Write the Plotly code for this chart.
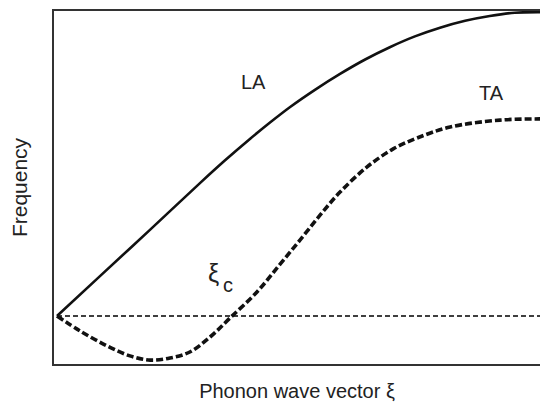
import plotly.graph_objects as go

# Normalised phonon wave vector (0 = zone centre, 1 = right edge of view)
la_x = [0.0, 0.089, 0.193, 0.296, 0.348, 0.400, 0.441, 0.482, 0.534, 0.586,
        0.638, 0.689, 0.741, 0.793, 0.845, 0.896, 0.948, 1.0]
la_y = [0.0, 0.133, 0.288, 0.443, 0.519, 0.591, 0.645, 0.696, 0.754, 0.807,
        0.855, 0.896, 0.932, 0.961, 0.984, 1.000, 1.011, 1.013]

ta_x = [0.0, 0.048, 0.104, 0.151, 0.193, 0.234, 0.275, 0.317, 0.358, 0.414,
        0.462, 0.503, 0.545, 0.586, 0.642, 0.696, 0.745, 0.814, 0.917, 1.0]
ta_y = [0.0, -0.050, -0.100, -0.133, -0.147, -0.140, -0.120, -0.070, -0.007, 0.080,
        0.173, 0.253, 0.337, 0.413, 0.497, 0.557, 0.593, 0.630, 0.653, 0.657]

base_x = [0.0, 1.0]
base_y = [0.0, 0.0]

labels = ["LA", "TA"]
label_x = [0.406, 0.899]
label_y = [0.780, 0.743]

xi_label = ["ξ", "c"]
xi_x = [0.324, 0.353]
xi_y = [0.142, 0.102]
xi_size = [25, 20]

FONT = "Liberation Sans, Arial, sans-serif"
TXT = "#222"

fig = go.Figure()
fig.add_trace(go.Scatter(x=base_x, y=base_y, mode="lines",
                         line=dict(color="#000", width=1.3, dash="5px,3px"),
                         showlegend=False, hoverinfo="skip"))
fig.add_trace(go.Scatter(x=la_x, y=la_y, mode="lines", line_shape="spline",
                         line=dict(color="#111", width=2.6),
                         showlegend=False, name="LA"))
fig.add_trace(go.Scatter(x=ta_x, y=ta_y, mode="lines", line_shape="spline",
                         line=dict(color="#111", width=3.6, dash="7px,3px"),
                         showlegend=False, name="TA"))

for t, x, y in zip(labels, label_x, label_y):
    fig.add_annotation(x=x, y=y, text=t, showarrow=False,
                       font=dict(family=FONT, size=20, color=TXT))
for t, x, y, s in zip(xi_label, xi_x, xi_y, xi_size):
    fig.add_annotation(x=x, y=y, text=t, showarrow=False,
                       font=dict(family=FONT, size=s, color=TXT))

fig.update_layout(
    width=540, height=402,
    margin=dict(l=54, r=0, t=11, b=38),
    paper_bgcolor="white", plot_bgcolor="white",
    xaxis=dict(range=[-0.0062, 1.0], showgrid=False, zeroline=False,
               showticklabels=False, ticks="", showline=True, mirror=True,
               linecolor="#333", linewidth=1.5,
               title=dict(text="Phonon wave vector ξ",
                          font=dict(family=FONT, size=20, color=TXT), standoff=21)),
    yaxis=dict(range=[-0.16, 1.0167], showgrid=False, zeroline=False,
               showticklabels=False, ticks="", showline=True, mirror=False,
               linecolor="#333", linewidth=1.5,
               title=dict(text="Frequency",
                          font=dict(family=FONT, size=21, color=TXT), standoff=19)),
)

fig.write_html("out.html")
